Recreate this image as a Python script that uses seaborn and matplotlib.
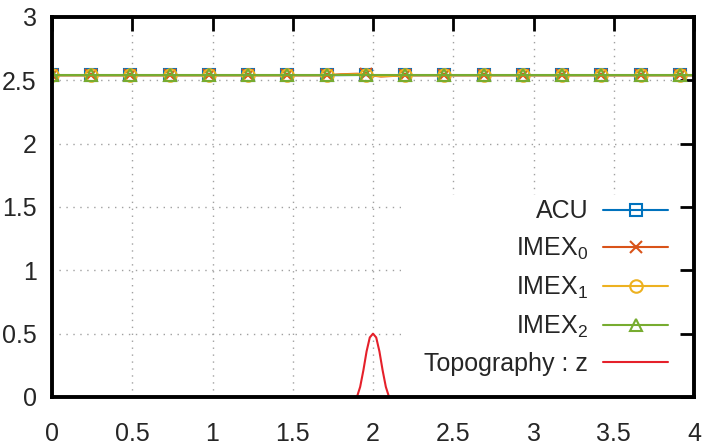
import numpy as np
import pandas as pd
import matplotlib
matplotlib.use("Agg")
import matplotlib.pyplot as plt
from matplotlib.patches import Rectangle
import seaborn as sns

# ---- data ----
x_vals = [0.000, 0.244, 0.489, 0.733, 0.978, 1.222, 1.467, 1.711, 1.80, 1.90, 1.956,
          2.00, 2.05, 2.10, 2.200, 2.444, 2.689, 2.933, 3.178, 3.422, 3.667, 3.911, 4.000]
acu   = [2.54, 2.54, 2.54, 2.54, 2.54, 2.54, 2.54, 2.54, 2.541, 2.542, 2.541,
         2.538, 2.535, 2.537, 2.54, 2.54, 2.54, 2.54, 2.54, 2.54, 2.54, 2.54, 2.54]
imex0 = [2.54, 2.54, 2.54, 2.54, 2.54, 2.54, 2.54, 2.54, 2.548, 2.552, 2.549,
         2.537, 2.530, 2.533, 2.54, 2.54, 2.54, 2.54, 2.54, 2.54, 2.54, 2.54, 2.54]
imex1 = [2.54, 2.54, 2.54, 2.54, 2.54, 2.54, 2.54, 2.54, 2.545, 2.548, 2.546,
         2.538, 2.533, 2.535, 2.54, 2.54, 2.54, 2.54, 2.54, 2.54, 2.54, 2.54, 2.54]
imex2 = [2.54, 2.54, 2.54, 2.54, 2.54, 2.54, 2.54, 2.54, 2.54, 2.54, 2.54,
         2.54, 2.54, 2.54, 2.54, 2.54, 2.54, 2.54, 2.54, 2.54, 2.54, 2.54, 2.54]
marker_idx = [0, 1, 2, 3, 4, 5, 6, 7, 10, 14, 15, 16, 17, 18, 19, 20, 21]

topo_x = [1.88, 1.90, 1.92, 1.94, 1.96, 1.98, 2.00, 2.02, 2.04, 2.06, 2.08, 2.10, 2.12]
topo_z = [-0.02, 0.0, 0.08, 0.21, 0.36, 0.47, 0.50, 0.47, 0.36, 0.21, 0.08, 0.0, -0.02]

labels = ["ACU", r"IMEX$_0$", r"IMEX$_1$", r"IMEX$_2$", "Topography : z"]
colors = ["#0072bd", "#d95319", "#edb120", "#77ac30", "#e5202a"]

x_ticks = [0, 0.5, 1, 1.5, 2, 2.5, 3, 3.5, 4]
y_ticks = [0, 0.5, 1, 1.5, 2, 2.5, 3]

# ---- style ----
sns.set_style("white")
plt.rcParams["font.family"] = ["Liberation Sans Narrow", "Liberation Sans", "DejaVu Sans"]
plt.rcParams["mathtext.fontset"] = "custom"
plt.rcParams["mathtext.rm"] = "Liberation Sans"
plt.rcParams["mathtext.it"] = "Liberation Sans"
FS = 18

fig = plt.figure(figsize=(7.04, 4.46), dpi=100)
ax = fig.add_axes([52/704, 1 - 397/446, (694-52)/704, (397-17)/446])

ax.set_xlim(0, 4)
ax.set_ylim(0, 3)

# manual dotted grid (below a white legend box, below ticks)
for xv in x_ticks[1:-1]:
    ax.axvline(xv, color="#a0a0a0", lw=1.0, ls=(0, (1, 4)), zorder=0.2)
for yv in y_ticks[1:-1]:
    ax.axhline(yv, color="#a0a0a0", lw=1.0, ls=(0, (1, 4)), zorder=0.2)
ax.add_patch(Rectangle((0.5436, 0.0), 0.4564, 0.532, transform=ax.transAxes,
                       facecolor="white", edgecolor="none", zorder=0.3))
ax.set_axisbelow(True)

series = [acu, imex0, imex1, imex2]
mk = [dict(marker="s", markersize=9), dict(marker="x", markersize=9),
      dict(marker="o", markersize=9), dict(marker="^", markersize=9)]
for vals, lab, col, m in zip(series, labels[:4], colors[:4], mk):
    sns.lineplot(x=x_vals, y=vals, ax=ax, color=col, lw=1.5, label=lab,
                 markevery=marker_idx, markerfacecolor="none",
                 markeredgecolor=col, markeredgewidth=1.5, sort=False, **m)

sns.lineplot(x=topo_x, y=topo_z, ax=ax, color=colors[4], lw=1.5,
             label=labels[4], sort=False)

ax.set_xticks(x_ticks)
ax.set_yticks(y_ticks)
ax.set_xticklabels([f"{v:g}" for v in x_ticks])
ax.set_yticklabels([f"{v:g}" for v in y_ticks])
ax.tick_params(axis="both", which="major", direction="in", length=10, width=2.0,
               labelsize=FS, top=True, right=True, color="black")
ax.tick_params(axis="x", pad=18)
ax.tick_params(axis="y", pad=11)
for s in ax.spines.values():
    s.set_visible(True)
    s.set_linewidth(2.8)
    s.set_color("black")
ax.set_xlabel("")
ax.set_ylabel("")

leg = ax.legend(loc="lower right", bbox_to_anchor=(0.96, 0.055), frameon=False,
                markerfirst=False, fontsize=FS, handlelength=2.6,
                handletextpad=0.6, labelspacing=0.5, borderaxespad=0,
                borderpad=0)

fig.savefig("out.png", dpi=100)
